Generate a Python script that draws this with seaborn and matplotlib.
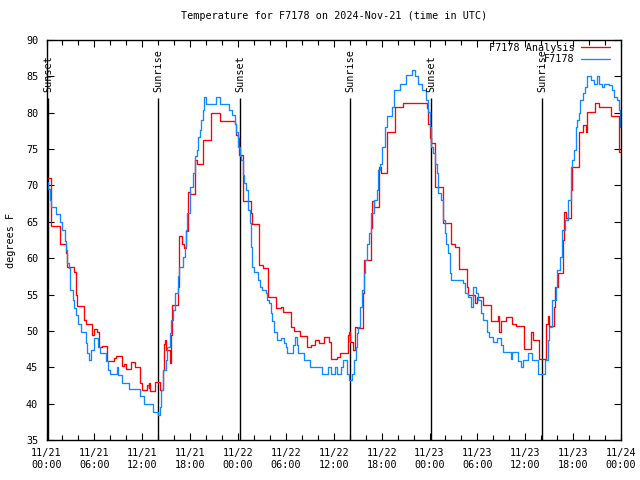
import matplotlib
matplotlib.use("Agg")
import matplotlib.pyplot as plt
import matplotlib.dates as mdates
import seaborn as sns
import pandas as pd

# ---- data (hours after 2024-11-21 00:00 UTC) ----
start = "2024-11-21 00:00"
title = "Temperature for F7178 on 2024-Nov-21 (time in UTC)"
ylabel = "degrees F"

analysis_hours = [0.0, 0.61, 1.65, 2.4, 2.6, 3.5, 3.66, 3.8, 4.7, 4.9, 5.75, 6.0, 6.3, 6.6, 6.9,
                  7.6, 8.4, 8.7, 9.5, 9.7, 10.0, 10.65, 11.05, 11.75, 11.95, 12.55, 12.8, 12.9,
                  13.0, 13.6, 14.2, 14.55, 14.7, 14.85, 15.0, 15.45, 15.55, 15.7, 16.45, 16.65,
                  17.0, 17.2, 17.5, 17.7, 18.0, 18.6, 18.85, 19.65, 20.6, 21.7, 23.6, 23.8, 23.95,
                  24.15, 24.65, 25.6, 25.8, 26.65, 27.1, 27.7, 28.7, 29.4, 29.7, 30.65, 31.05,
                  31.75, 32.65, 33.15, 33.7, 34.1, 34.8, 35.45, 35.65, 36.4, 36.8, 37.75, 37.95,
                  38.05, 38.4, 38.7, 38.9, 39.65, 39.8, 40.7, 40.8, 41.05, 41.7, 41.95, 42.65,
                  43.7, 44.65, 47.7, 47.85, 48.0, 48.2, 48.7, 49.7, 50.7, 51.2, 51.75, 52.7,
                  52.85, 53.7, 53.95, 54.7, 55.75, 56.55, 56.7, 57.0, 57.6, 58.3, 58.85, 59.8,
                  60.7, 61.0, 61.7, 62.65, 62.9, 63.0, 63.6, 63.7, 64.1, 64.7, 64.85, 65.15,
                  65.7, 65.8, 66.7, 67.25, 67.6, 67.8, 68.7, 69.3, 70.7, 71.7, 72.0]
analysis_temps = [71.0, 64.4, 62.0, 60.7, 58.8, 58.1, 54.9, 53.4, 51.5, 51.0, 49.4, 50.2, 49.8, 47.8, 47.9,
                  45.9, 46.3, 46.6, 45.2, 45.5, 44.7, 45.7, 45.1, 42.9, 41.9, 42.6, 42.1, 42.8,
                  41.8, 43.0, 41.9, 44.6, 48.2, 48.8, 47.4, 45.6, 49.4, 53.6, 56.1, 63.0,
                  62.0, 61.4, 63.7, 69.1, 68.8, 73.5, 73.0, 76.3, 79.9, 78.8, 78.5, 77.0, 76.5,
                  74.2, 67.8, 66.2, 64.7, 59.1, 58.6, 54.7, 53.1, 53.3, 52.6, 50.6, 50.0,
                  49.3, 47.8, 48.1, 48.8, 48.3, 49.2, 48.5, 46.2, 46.4, 47.0, 49.4, 49.9,
                  48.5, 47.4, 50.6, 50.4, 55.2, 59.75, 64.1, 67.8, 67.1, 72.6, 71.7, 77.4,
                  80.8, 81.3, 80.6, 78.5, 76.5, 75.8, 69.8, 64.8, 62.0, 61.6, 58.5, 56.1,
                  54.9, 53.8, 54.6, 53.6, 51.3, 52.0, 49.9, 51.3, 51.9, 51.0, 50.7, 47.5,
                  49.8, 48.8, 46.1, 51.0, 52.0, 50.7, 53.3, 56.1, 58.0, 62.5, 66.4, 65.5,
                  69.4, 72.6, 77.4, 78.3, 77.4, 80.1, 81.4, 80.8, 79.5, 74.6, 74.6]

obs_hours = [0.0, 0.2, 0.45, 0.6, 1.2, 1.7, 2.0, 2.3, 2.4, 2.6, 2.8, 2.95, 3.0, 3.3, 3.4, 3.7, 3.9,
             4.35, 4.9, 5.1, 5.35, 5.6, 5.9, 6.4, 6.7, 7.4, 7.7, 8.0, 8.8, 9.0, 9.5, 10.35, 11.7,
             12.2, 13.3, 14.0, 14.2, 14.4, 14.65, 15.0, 15.1, 15.5, 15.6, 15.9, 16.1, 16.5, 16.65,
             17.1, 17.4, 17.5, 17.6, 17.95, 18.4, 18.6, 18.8, 19.0, 19.2, 19.4, 19.6, 19.8, 20.0,
             21.3, 21.7, 22.9, 23.3, 23.6, 23.8, 24.0, 24.2, 24.4, 24.6, 24.8, 25.0, 25.2, 25.5,
             25.65, 25.8, 25.95, 26.5, 26.8, 27.0, 27.5, 27.6, 27.9, 28.1, 28.3, 28.45, 28.9,
             29.4, 29.8, 30.0, 30.2, 30.9, 31.1, 31.35, 31.5, 32.3, 33.0, 34.5, 35.3, 35.6, 36.2,
             36.4, 36.85, 37.2, 37.65, 37.95, 38.3, 38.5, 38.8, 38.9, 39.1, 39.35, 39.6, 39.75,
             39.95, 40.2, 40.45, 40.7, 41.0, 41.4, 41.6, 41.8, 42.05, 42.45, 42.7, 43.3, 43.5,
             44.3, 45.0, 45.8, 46.2, 46.6, 47.1, 47.5, 47.8, 48.0, 48.2, 48.4, 48.65, 48.9, 49.1,
             49.4, 49.7, 49.9, 50.1, 50.3, 50.6, 50.75, 52.2, 52.5, 52.8, 53.2, 53.5, 53.8, 54.1,
             54.5, 54.7, 55.2, 55.5, 56.0, 56.4, 56.9, 57.2, 58.2, 58.35, 59.1, 59.5, 59.7, 60.3,
             60.9, 61.6, 62.5, 62.8, 63.0, 63.3, 63.4, 63.8, 64.0, 64.4, 64.6, 65.0, 65.3, 65.7,
             65.9, 66.1, 66.3, 66.5, 66.7, 66.9, 67.2, 67.5, 67.8, 68.2, 68.6, 69.0, 69.2, 69.6,
             69.9, 70.5, 70.9, 71.1, 71.5, 71.7, 71.9, 72.0]
obs_temps = [70.5, 69.5, 68.0, 67.0, 66.1, 65.0, 63.9, 62.3, 61.1, 59.3, 58.6, 57.0, 55.6, 54.3, 53.1, 52.2, 51.0,
             49.9, 48.3, 46.9, 46.0, 47.4, 49.0, 47.8, 46.9, 45.8, 44.6, 44.1, 45.1, 43.9, 42.9, 42.0, 41.05,
             39.9, 38.9, 38.4, 39.6, 41.9, 44.6, 46.0, 47.8, 49.7, 51.5, 52.9, 55.2, 57.5, 58.8,
             60.2, 61.6, 63.9, 66.2, 69.8, 71.7, 74.0, 74.9, 76.7, 77.6, 79.0, 80.4, 82.2, 81.2,
             82.2, 81.2, 80.4, 79.7, 78.5, 77.4, 75.3, 74.0, 73.5, 71.4, 70.3, 69.4, 66.6, 64.8,
             61.6, 58.8, 58.05, 57.0, 56.1, 55.6, 55.2, 54.25, 53.8, 52.4, 51.3, 49.9, 48.75,
             49.0, 48.3, 47.8, 46.9, 48.0, 49.2, 48.0, 46.9, 46.0, 45.1, 44.1, 45.1, 44.1, 45.1,
             44.1, 45.1, 46.0, 44.1, 43.2, 44.1, 46.0, 47.8, 49.7, 50.6, 53.3, 55.6, 57.9,
             59.75, 62.0, 63.4, 66.2, 68.0, 69.4, 72.1, 73.0, 75.3, 78.1, 79.5, 80.8, 83.1,
             84.0, 85.2, 85.9, 85.0, 84.0, 83.1, 81.75, 80.1, 78.1, 75.3, 74.4, 73.0, 71.7, 68.9,
             68.0, 65.25, 63.4, 62.0, 60.7, 57.9, 57.0, 56.6, 55.2, 54.7, 53.3, 56.1, 55.2, 54.25,
             52.4, 51.5, 49.9, 49.2, 48.5, 49.0, 48.0, 47.1, 46.2, 47.1, 45.8, 45.1, 46.0, 47.0,
             46.0, 44.1, 46.0, 48.75, 50.6, 52.4, 54.25, 56.1, 58.4, 60.2, 63.9, 65.25, 68.0, 72.6,
             73.5, 74.9, 78.1, 79.0, 79.9, 81.75, 82.7, 83.6, 85.0, 84.5, 84.0, 85.0, 84.0, 83.6,
             84.0, 83.8, 83.1, 82.2, 81.75, 80.4, 78.1, 78.1]

sun_labels = ["Sunset", "Sunrise", "Sunset", "Sunrise", "Sunset", "Sunrise"]
sun_hours = [0.18, 14.02, 24.28, 38.08, 48.23, 62.14]

series_names = ["F7178 Analysis", "F7178"]
series_colors = ["#ff0000", "#1088ff"]

# ---- build frames ----
t0 = pd.Timestamp(start)
df_a = pd.DataFrame({"time": t0 + pd.to_timedelta(analysis_hours, unit="h"),
                     "temp": analysis_temps})
df_o = pd.DataFrame({"time": t0 + pd.to_timedelta(obs_hours, unit="h"),
                     "temp": obs_temps})
sun_times = t0 + pd.to_timedelta(sun_hours, unit="h")

sns.set_style("ticks")
mono = ["DejaVu Sans Mono"]
plt.rcParams["font.family"] = mono
fs = 7.3
plt.rcParams.update({
    "font.size": fs,
    "xtick.direction": "in", "ytick.direction": "in",
    "xtick.top": True, "ytick.right": True,
    "axes.edgecolor": "black", "axes.linewidth": 1.0,
    "xtick.color": "black", "ytick.color": "black",
    "text.color": "black", "axes.labelcolor": "black",
})

fig = plt.figure(figsize=(6.4, 4.8), dpi=100)
ax = fig.add_axes([46.5 / 640, 40 / 480, (621 - 46.5) / 640, 400 / 480])

sns.lineplot(data=df_a, x="time", y="temp", ax=ax, color=series_colors[0],
             drawstyle="steps-post", linewidth=0.95, label=series_names[0], estimator=None)
sns.lineplot(data=df_o, x="time", y="temp", ax=ax, color=series_colors[1],
             drawstyle="steps-post", linewidth=0.95, label=series_names[1], estimator=None)

ax.set_xlim(t0, t0 + pd.Timedelta(hours=72))
ax.set_ylim(35, 90)
ax.set_yticks(range(35, 91, 5))

ax.vlines(sun_times, 35, 82.0, color="black", linewidth=1.0, zorder=1)
for t, lab in zip(sun_times, sun_labels):
    ax.text(t, 82.85, lab, rotation=90, ha="center", va="bottom", fontsize=fs)

ax.xaxis.set_major_locator(mdates.HourLocator(byhour=[0, 6, 12, 18]))
ax.xaxis.set_minor_locator(mdates.HourLocator(byhour=range(0, 24, 2)))
ax.xaxis.set_major_formatter(mdates.DateFormatter("%m/%d\n%H:%M"))
ax.tick_params(axis="both", which="major", length=5, width=0.8, labelsize=fs)
ax.tick_params(axis="x", which="major", pad=6)
ax.tick_params(axis="y", which="major", pad=6)
ax.tick_params(axis="x", which="minor", length=3.5, width=0.8)

ax.set_xlabel("")
ax.set_ylabel(ylabel, fontsize=fs, labelpad=7)
ax.set_title(title, fontsize=fs, pad=15)

leg = ax.legend(loc="upper right", bbox_to_anchor=((610 - 46.5) / 574.5, 0.993),
                frameon=False, markerfirst=False, handlelength=2.9, handletextpad=0.6,
                labelspacing=0.15, borderpad=0, borderaxespad=0, fontsize=fs)

fig.savefig("out.png", dpi=100)
